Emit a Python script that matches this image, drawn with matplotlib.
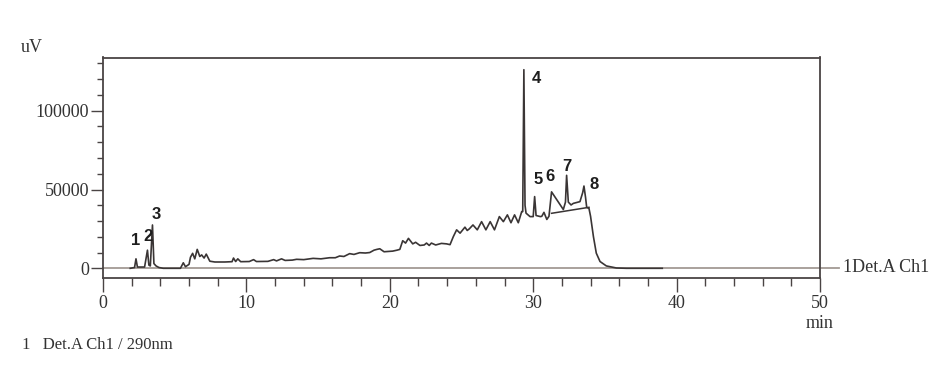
import matplotlib
matplotlib.use("Agg")
import matplotlib.pyplot as plt
from matplotlib.ticker import MultipleLocator

# chromatogram (time in min, signal in uV)
time_min = [1.9, 2.2, 2.3, 2.4, 2.9, 3.1, 3.2, 3.3, 3.45, 3.55, 3.7, 3.9, 4.2,
            5.4, 5.6, 5.75, 6.0, 6.1, 6.25, 6.4, 6.57, 6.75, 6.88, 7.05, 7.2, 7.45,
            7.8, 8.5, 9.0, 9.1, 9.25, 9.4, 9.6, 10.2, 10.5, 10.7, 11.5, 11.9, 12.1,
            12.45, 12.7, 13.2, 13.5, 14.0, 14.65, 15.2, 15.8, 16.2, 16.5, 16.8,
            17.2, 17.5, 17.9, 18.3, 18.6, 18.9, 19.1, 19.3, 19.6, 20.2, 20.5, 20.7,
            20.9, 21.1, 21.3, 21.6, 21.8, 22.1, 22.4, 22.56, 22.75, 22.9, 23.2,
            23.6, 23.96, 24.2, 24.43, 24.66, 24.9, 25.24, 25.4, 25.54, 25.8, 26.1,
            26.4, 26.7, 27.0, 27.3, 27.64, 27.92, 28.2, 28.45, 28.7, 28.96, 29.2,
            29.27, 29.35, 29.43, 29.5, 29.78, 30.0, 30.1, 30.2, 30.5, 30.6, 30.75,
            30.95, 31.1, 31.28, 32.1, 32.25, 32.33, 32.45, 32.64, 32.8, 33.26,
            33.45, 33.54, 33.65, 33.73, 33.89, 34.0, 34.2, 34.4, 34.66, 35.1, 35.8,
            36.5, 39.0]
signal_uv = [0, 500, 6000, 800, 800, 11500, 2000, 1500, 27500, 3000, 1500, 500, 0,
             0, 3500, 1000, 2500, 7000, 9500, 6000, 12000, 7500, 8500, 6500, 9000, 4500,
             4000, 4000, 4200, 6500, 4300, 6000, 4200, 4300, 5500, 4300, 4400, 5500, 4700,
             6000, 5000, 5200, 5700, 5500, 6300, 6000, 6700, 6700, 7800, 7500,
             9300, 8800, 9900, 9700, 10000, 11500, 12000, 12400, 10500, 10900, 11500, 12000,
             17500, 16000, 19000, 15500, 16500, 14500, 14800, 16000, 14500, 16000, 14800,
             15800, 15500, 15000, 20100, 24400, 22300, 26100, 24000, 25000, 27500, 24400,
             29600, 24400, 29600, 24400, 32800, 29600, 33900, 28900, 33900, 28900, 36000,
             36000, 126000, 40000, 35000, 32800, 32800, 45500, 33500, 32800, 33000, 35500,
             31000, 33000, 48500, 37300, 42000, 59000, 42000, 40200, 41200, 42300,
             48000, 52200, 45000, 38700, 38000, 33000, 20100, 9600, 4300, 1500, 200,
             0, 0]

# integration baseline under peaks 6-8
base_t = [31.28, 33.89]
base_v = [34900, 38700]

peak_ids = ["1", "2", "3", "4", "5", "6", "7", "8"]
label_t = [2.30, 3.16, 3.74, 30.24, 30.36, 31.17, 32.38, 34.24]
label_v = [17500, 20000, 34300, 120500, 56500, 58100, 64900, 52900]

serif = "Liberation Serif"
axis_col = "#4a4444"

fig = plt.figure(figsize=(9.52, 3.87), dpi=100)
ax = fig.add_axes([103 / 952, (387 - 278) / 387, (820 - 103) / 952, (278 - 57.5) / 387])

# zero line, runs a little past the right edge
ax.plot([0, 51.3], [0, 0], color="#a29a94", lw=1.3, clip_on=False, zorder=1)
ax.plot(time_min, signal_uv, color="#3a3535", lw=1.2, zorder=3)
ax.plot(base_t, base_v, color="#3a3535", lw=1.1, zorder=3)

for pid, tx, ty in zip(peak_ids, label_t, label_v):
    ax.text(tx, ty, pid, ha="center", va="center", fontsize=12,
            fontweight="bold", family="Liberation Sans", color="#1e1e1e")

ax.set_xlim(0, 50)
ax.set_ylim(-6155, 133760)

ax.xaxis.set_major_locator(MultipleLocator(10))
ax.xaxis.set_minor_locator(MultipleLocator(2))
ax.yaxis.set_major_locator(MultipleLocator(50000))
ax.yaxis.set_minor_locator(MultipleLocator(10000))

ax.tick_params(axis="both", which="both", direction="out", color=axis_col,
               labelcolor="#333333", width=1.0)
ax.tick_params(axis="x", which="major", length=10, pad=2)
ax.tick_params(axis="x", which="minor", length=6)
ax.tick_params(axis="y", which="major", length=9, pad=1)
ax.tick_params(axis="y", which="minor", length=4)

for lab in ax.get_xticklabels() + ax.get_yticklabels():
    lab.set_family(serif)
    lab.set_fontsize(13)

for s in ax.spines.values():
    s.set_color(axis_col)
    s.set_linewidth(1.3)

fig.text(32 / 952, 1 - 48 / 387, "uV", family=serif, fontsize=13,
         ha="center", va="center", color="#333333")
fig.text(820 / 952, 1 - 323 / 387, "min", family=serif, fontsize=13,
         ha="center", va="center", color="#333333")
fig.text(843 / 952, 1 - 268 / 387, "1Det.A Ch1", family=serif, fontsize=13,
         ha="left", va="center", color="#333333")
fig.text(22 / 952, 1 - 345 / 387, "1   Det.A Ch1 / 290nm", family=serif,
         fontsize=12, ha="left", va="center", color="#333333")

fig.savefig("out.png", dpi=100, facecolor="white")
